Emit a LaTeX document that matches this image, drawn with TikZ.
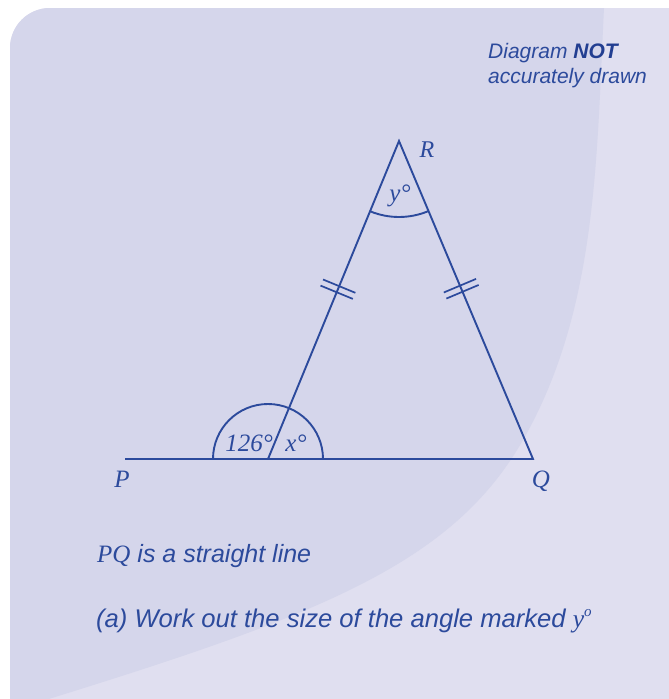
\documentclass[tikz,border=0pt]{standalone}
\usepackage{fontspec}
\setmainfont{Liberation Serif}
\newfontfamily\labelsans{Liberation Sans}
\usetikzlibrary{calc}
\definecolor{ink}{RGB}{44,74,156}
\definecolor{inkdark}{RGB}{34,62,145}
\definecolor{bgdark}{RGB}{213,214,235}
\definecolor{bglight}{RGB}{224,223,240}
\begin{document}
\begin{tikzpicture}[x=1pt,y=-1pt,
  geo/.style={draw=ink, line width=1.9pt, line join=miter},
  tickmark/.style={draw=ink, line width=1.7pt},
  lbl/.style={text=ink, inner sep=0pt, font=\fontsize{25}{30}\selectfont\itshape, anchor=base},
  txt/.style={text=ink, inner sep=0pt, font=\fontsize{25}{30}\selectfont\labelsans\itshape, anchor=base west},
  note/.style={text=ink, inner sep=0pt, font=\fontsize{21}{25}\selectfont\labelsans\itshape, anchor=base west}]

\useasboundingbox (0,0) rectangle (669,699);
\fill[white] (0,0) rectangle (669,699);
\begin{scope}
  \clip[rounded corners=40pt] (10,8) rectangle (720,760);
  \fill[bglight] (0,0) rectangle (669,699);
  \fill[bgdark] (0,0) -- (604,0) -- (604,8)
    .. controls (596.5,158) and (597.4,309.8) .. (523,440)
    .. controls (448.6,570.2) and (305.9,620.2) .. (0,714)
    -- cycle;
\end{scope}

% triangle
\coordinate (R) at (399,141);
\coordinate (Q) at (533,459);
\coordinate (F) at (268,459);
\coordinate (Pend) at (125,459);
\draw[geo] (Pend) -- (Q) -- (R) -- (F);

% angle arcs
\draw[geo] ($(F)+(-55,0)$) arc[start angle=180, end angle=360, radius=55];
\draw[geo] (R) ++(67.1:76) arc[start angle=67.1, end angle=112.4, radius=76];

% equal-side tick marks
\foreach \d in {157.0,163.6}{
  \coordinate (tl) at ($(R)!\d pt!(F)$);
  \draw[tickmark] ($(tl)!17.5pt!90:(R)$) -- ($(tl)!17.5pt!-90:(R)$);
  \coordinate (tr) at ($(R)!\d pt!(Q)$);
  \draw[tickmark] ($(tr)!17.5pt!90:(R)$) -- ($(tr)!17.5pt!-90:(R)$);
}

% labels
\node[lbl] (Plbl) at (122,487) {P};
\node[lbl] (Qlbl) at (541,487) {Q};
\node[lbl, font=\fontsize{24}{28}\selectfont\itshape] (Rlbl) at (427,157) {R};
\node[lbl] (a126) at (249,451) {126°};
\node[lbl] (ax) at (296,451) {x°};
\node[lbl] (ay) at (400,201) {y°};

% texts
\node[note] (n1) at (488,58) {Diagram {\bfseries\color{inkdark}NOT}};
\node[note] (n2) at (488,83) {accurately drawn};
\node[txt] (s1) at (97,562) {{\rmfamily PQ} is a straight line};
\node[txt, font=\fontsize{25.6}{30}\selectfont\labelsans\itshape] (s2) at (96,627) {(a) Work out the size of the angle marked {\rmfamily y\raisebox{0.9ex}{\fontsize{15}{18}\selectfont o}}};
\end{tikzpicture}
\end{document}
